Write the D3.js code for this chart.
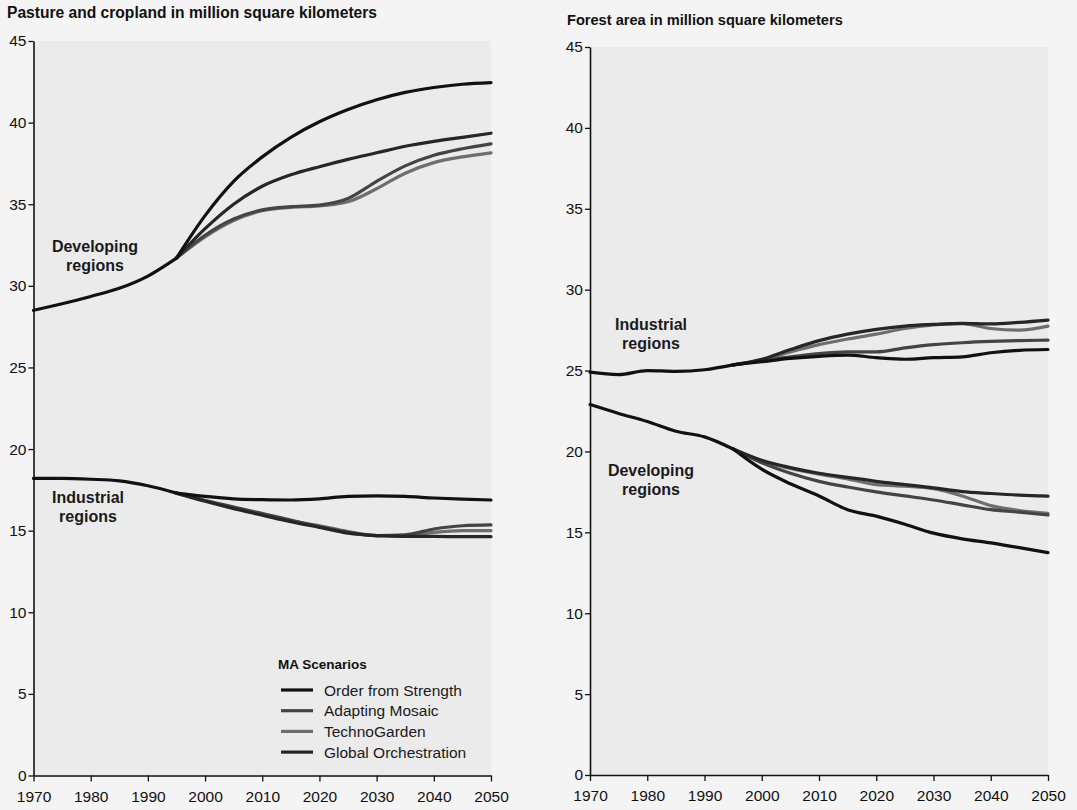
<!DOCTYPE html>
<html><head><meta charset="utf-8">
<script src="https://cdn.jsdelivr.net/npm/d3@7"></script>
<style>
html,body{margin:0;padding:0;background:#f4f4f4;}
svg{display:block;font-family:"Liberation Sans",Arial,sans-serif;}
</style></head><body>
<svg id="chart" width="1077" height="810"></svg>
<script>
// ---- data ----
const histYears = [1970, 1975, 1980, 1985, 1990, 1995];
const scenYears = [1995, 2000, 2005, 2010, 2015, 2020, 2025, 2030, 2035, 2040, 2045, 2050];
const scenarios = ["Order from Strength", "Adapting Mosaic", "TechnoGarden", "Global Orchestration"];
const scenarioColors = ["#111111", "#444444", "#6e6e6e", "#262626"];

// Pasture and cropland (million km²)
const cropDevHist = [28.5, 28.9, 29.35, 29.85, 30.6, 31.7];
const cropDevOS = [31.7, 34.3, 36.4, 37.9, 39.1, 40.05, 40.8, 41.4, 41.85, 42.15, 42.35, 42.45];
const cropDevAM = [31.7, 33.1, 34.1, 34.65, 34.85, 34.95, 35.35, 36.4, 37.35, 38.0, 38.4, 38.7];
const cropDevTG = [31.7, 33.0, 34.0, 34.6, 34.8, 34.9, 35.15, 35.95, 36.9, 37.55, 37.9, 38.15];
const cropDevGO = [31.7, 33.5, 35.0, 36.1, 36.8, 37.3, 37.75, 38.15, 38.55, 38.85, 39.1, 39.35];

const cropIndHist = [18.2, 18.2, 18.15, 18.05, 17.75, 17.3];
const cropIndOS = [17.3, 17.1, 16.95, 16.9, 16.88, 16.95, 17.1, 17.13, 17.1, 17.0, 16.93, 16.88];
const cropIndAM = [17.3, 16.85, 16.45, 16.05, 15.65, 15.25, 14.9, 14.7, 14.75, 15.1, 15.3, 15.35];
const cropIndTG = [17.3, 16.85, 16.4, 16.0, 15.6, 15.3, 14.95, 14.7, 14.7, 14.9, 15.0, 15.0];
const cropIndGO = [17.3, 16.8, 16.35, 15.95, 15.55, 15.2, 14.85, 14.7, 14.65, 14.65, 14.63, 14.63];

// Forest area (million km²)
const forIndHist = [24.9, 24.75, 25.0, 24.95, 25.05, 25.35];
const forIndOS = [25.35, 25.55, 25.75, 25.88, 25.95, 25.8, 25.7, 25.8, 25.85, 26.1, 26.25, 26.3];
const forIndAM = [25.35, 25.6, 25.85, 26.05, 26.15, 26.15, 26.4, 26.6, 26.72, 26.8, 26.85, 26.88];
const forIndTG = [25.35, 25.65, 26.15, 26.6, 26.95, 27.25, 27.6, 27.82, 27.9, 27.6, 27.5, 27.75];
const forIndGO = [25.35, 25.7, 26.3, 26.85, 27.25, 27.55, 27.75, 27.85, 27.92, 27.88, 27.98, 28.12];

const forDevHist = [22.9, 22.35, 21.85, 21.25, 20.9, 20.15];
const forDevOS = [20.15, 18.9, 18.0, 17.25, 16.4, 16.0, 15.5, 14.95, 14.6, 14.35, 14.05, 13.75];
const forDevAM = [20.15, 19.3, 18.65, 18.15, 17.8, 17.5, 17.25, 17.0, 16.7, 16.4, 16.25, 16.07];
const forDevTG = [20.15, 19.4, 18.95, 18.6, 18.3, 17.95, 17.85, 17.7, 17.25, 16.65, 16.35, 16.17];
const forDevGO = [20.15, 19.45, 19.0, 18.65, 18.4, 18.15, 17.95, 17.75, 17.52, 17.4, 17.3, 17.24];

const xTicks = [1970, 1980, 1990, 2000, 2010, 2020, 2030, 2040, 2050];
const yTicks = [0, 5, 10, 15, 20, 25, 30, 35, 40, 45];

// ---- drawing ----
const svg = d3.select("#chart");

function panel(opt) {
  const x = d3.scaleLinear().domain([1970, 2050]).range([opt.x0, opt.x1]);
  const y = d3.scaleLinear().domain([0, 45]).range([opt.y0, opt.y1]);
  const g = svg.append("g");

  g.append("rect").attr("x", opt.x0).attr("y", opt.y1)
    .attr("width", opt.x1 - opt.x0).attr("height", opt.y0 - opt.y1)
    .attr("fill", "#ebebeb");

  g.append("text").attr("x", opt.tx).attr("y", opt.ty)
    .attr("font-size", opt.tsize).attr("font-weight", "bold").attr("fill", "#111")
    .text(opt.title);

  const line = d3.line().x(d => x(d[0])).y(d => y(d[1])).curve(d3.curveMonotoneX);

  opt.groups.forEach(grp => {
    const order = [2, 1, 3, 0];
    order.forEach(i => {
      g.append("path").datum(scenYears.map((yr, k) => [yr, grp.scen[i][k]]))
        .attr("d", line).attr("fill", "none")
        .attr("stroke", scenarioColors[i]).attr("stroke-width", 3.2)
        .attr("stroke-linejoin", "round").attr("stroke-linecap", "round");
    });
    g.append("path").datum(histYears.map((yr, k) => [yr, grp.hist[k]]))
      .attr("d", line).attr("fill", "none")
      .attr("stroke", "#111").attr("stroke-width", 3.2)
      .attr("stroke-linecap", "round");
    const t = g.append("text").attr("text-anchor", "middle")
      .attr("font-size", 16).attr("font-weight", "bold").attr("fill", "#1a1a1a");
    t.append("tspan").attr("x", grp.lx).attr("y", grp.ly).text(grp.label[0]);
    t.append("tspan").attr("x", grp.lx).attr("y", grp.ly + 19).text(grp.label[1]);
  });

  const xa = g.append("g").attr("transform", `translate(0,${opt.y0})`)
    .call(d3.axisBottom(x).tickValues(xTicks).tickFormat(d3.format("d")).tickSize(6).tickSizeOuter(0).tickPadding(9));
  const ya = g.append("g").attr("transform", `translate(${opt.x0},0)`)
    .call(d3.axisLeft(y).tickValues(yTicks).tickSize(5).tickSizeOuter(0).tickPadding(2));
  [xa, ya].forEach(a => {
    a.selectAll("path").attr("stroke", "#111").attr("stroke-width", 1.6);
    a.selectAll("line").attr("stroke", "#111").attr("stroke-width", 1.3);
    a.selectAll("text").attr("font-size", 15.5).attr("fill", "#111")
      .attr("font-family", "'Liberation Sans', Arial, sans-serif");
  });
  return {x, y, g};
}

panel({
  x0: 33.5, x1: 491, y0: 775.5, y1: 41, tx: 7, ty: 18, tsize: 15.6,
  title: "Pasture and cropland in million square kilometers",
  groups: [
    {hist: cropDevHist, scen: [cropDevOS, cropDevAM, cropDevTG, cropDevGO], label: ["Developing", "regions"], lx: 95, ly: 252},
    {hist: cropIndHist, scen: [cropIndOS, cropIndAM, cropIndTG, cropIndGO], label: ["Industrial", "regions"], lx: 88, ly: 503}
  ]
});

panel({
  x0: 590, x1: 1048, y0: 775, y1: 47, tx: 567, ty: 25, tsize: 14.6,
  title: "Forest area in million square kilometers",
  groups: [
    {hist: forIndHist, scen: [forIndOS, forIndAM, forIndTG, forIndGO], label: ["Industrial", "regions"], lx: 651, ly: 330},
    {hist: forDevHist, scen: [forDevOS, forDevAM, forDevTG, forDevGO], label: ["Developing", "regions"], lx: 651, ly: 476}
  ]
});

// legend
const lg = svg.append("g").attr("transform", "translate(278,0)");
lg.append("text").attr("x", 0).attr("y", 669).attr("font-size", 13.5)
  .attr("font-weight", "bold").attr("fill", "#111").text("MA Scenarios");
scenarios.forEach((s, i) => {
  const yy = 690 + i * 20.7;
  lg.append("line").attr("x1", 3).attr("x2", 35).attr("y1", yy).attr("y2", yy)
    .attr("stroke", scenarioColors[i]).attr("stroke-width", 3.2);
  lg.append("text").attr("x", 46).attr("y", yy + 5.5).attr("font-size", 15.5)
    .attr("fill", "#1a1a1a").text(s);
});
</script>
</body></html>
